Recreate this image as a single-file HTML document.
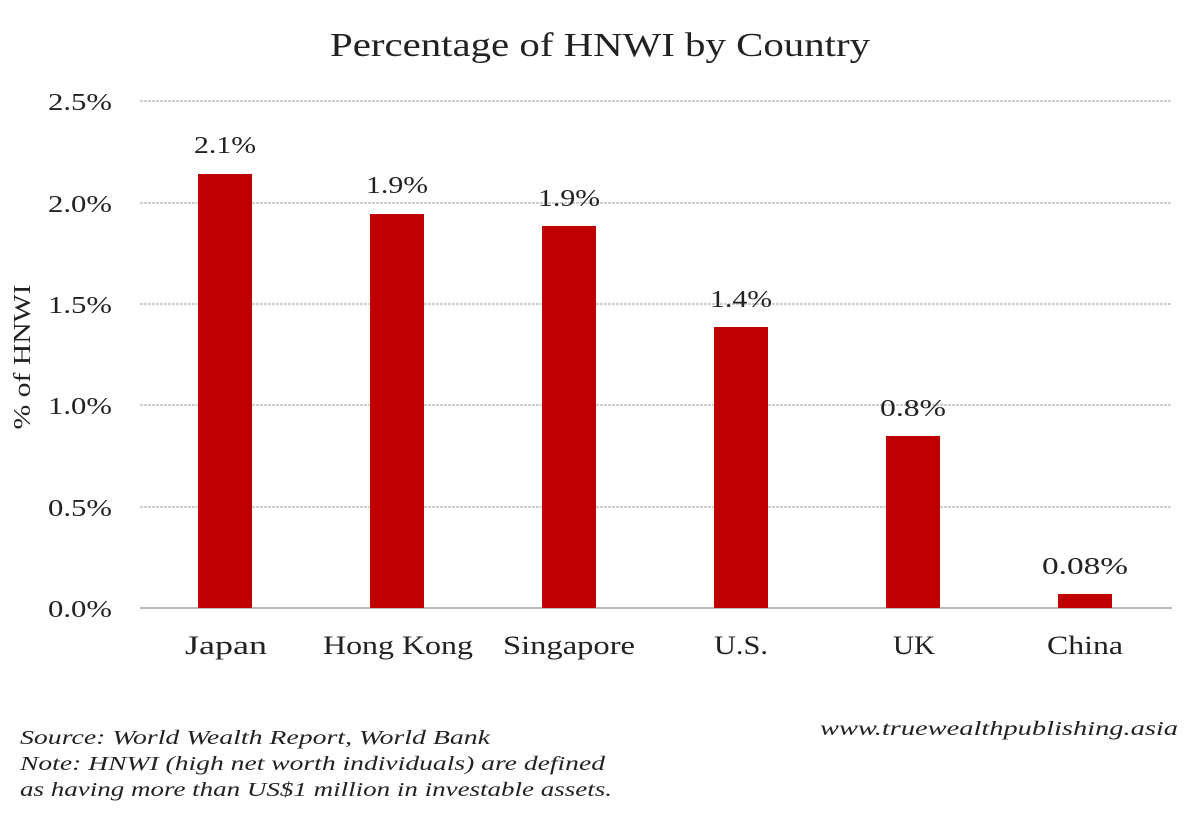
<!DOCTYPE html>
<html><head><meta charset="utf-8"><style>
body{margin:0;background:#fff;}
svg text{font-family:"Liberation Serif",serif;fill:#222;}
</style></head><body>
<svg width="1200" height="818" xmlns="http://www.w3.org/2000/svg">
<rect width="1200" height="818" fill="#fff"/>
<text x="600" y="56" font-size="34" text-anchor="middle" textLength="540" lengthAdjust="spacingAndGlyphs">Percentage of HNWI by Country</text>
<g stroke="#cfcfcf" stroke-width="2" stroke-dasharray="3,1">
<line x1="140" x2="1172" y1="101" y2="101"/>
<line x1="140" x2="1172" y1="203" y2="203"/>
<line x1="140" x2="1172" y1="304" y2="304"/>
<line x1="140" x2="1172" y1="405" y2="405"/>
<line x1="140" x2="1172" y1="507" y2="507"/>
</g>
<line x1="140" x2="1172" y1="608" y2="608" stroke="#bbb" stroke-width="2"/>
<g font-size="24" text-anchor="end" lengthAdjust="spacingAndGlyphs">
<text x="112" y="110" textLength="64" lengthAdjust="spacingAndGlyphs">2.5%</text>
<text x="112" y="212" textLength="64" lengthAdjust="spacingAndGlyphs">2.0%</text>
<text x="112" y="313" textLength="64" lengthAdjust="spacingAndGlyphs">1.5%</text>
<text x="112" y="414" textLength="64" lengthAdjust="spacingAndGlyphs">1.0%</text>
<text x="112" y="516" textLength="64" lengthAdjust="spacingAndGlyphs">0.5%</text>
<text x="112" y="617" textLength="64" lengthAdjust="spacingAndGlyphs">0.0%</text>
</g>
<text transform="translate(30,357) rotate(-90)" font-size="24" text-anchor="middle" textLength="145" lengthAdjust="spacingAndGlyphs">% of HNWI</text>
<g fill="#c00000">
<rect x="198" y="174" width="54" height="434"/>
<rect x="370" y="214" width="54" height="394"/>
<rect x="542" y="226" width="54" height="382"/>
<rect x="714" y="327" width="54" height="281"/>
<rect x="886" y="436" width="54" height="172"/>
<rect x="1058" y="594" width="54" height="14"/>
</g>
<g font-size="24" text-anchor="middle">
<text x="225" y="153" textLength="62" lengthAdjust="spacingAndGlyphs">2.1%</text>
<text x="397" y="193" textLength="62" lengthAdjust="spacingAndGlyphs">1.9%</text>
<text x="569" y="206" textLength="62" lengthAdjust="spacingAndGlyphs">1.9%</text>
<text x="741" y="307" textLength="62" lengthAdjust="spacingAndGlyphs">1.4%</text>
<text x="913" y="416" textLength="66" lengthAdjust="spacingAndGlyphs">0.8%</text>
<text x="1085" y="574" textLength="86" lengthAdjust="spacingAndGlyphs">0.08%</text>
</g>
<g font-size="26" text-anchor="middle">
<text x="226" y="654" textLength="82" lengthAdjust="spacingAndGlyphs">Japan</text>
<text x="398" y="654" textLength="150" lengthAdjust="spacingAndGlyphs">Hong Kong</text>
<text x="569" y="654" textLength="132" lengthAdjust="spacingAndGlyphs">Singapore</text>
<text x="741" y="654" textLength="54" lengthAdjust="spacingAndGlyphs">U.S.</text>
<text x="914" y="654" textLength="42" lengthAdjust="spacingAndGlyphs">UK</text>
<text x="1085" y="654" textLength="76" lengthAdjust="spacingAndGlyphs">China</text>
</g>
<g font-size="20" font-style="italic">
<text x="20" y="744" textLength="470" lengthAdjust="spacingAndGlyphs">Source: World Wealth Report, World Bank</text>
<text x="20" y="770" textLength="585" lengthAdjust="spacingAndGlyphs">Note: HNWI (high net worth individuals) are defined</text>
<text x="20" y="796" textLength="592" lengthAdjust="spacingAndGlyphs">as having more than US$1 million in investable assets.</text>
<text x="1178" y="735" text-anchor="end" textLength="358" lengthAdjust="spacingAndGlyphs">www.truewealthpublishing.asia</text>
</g>
</svg>
</body></html>
